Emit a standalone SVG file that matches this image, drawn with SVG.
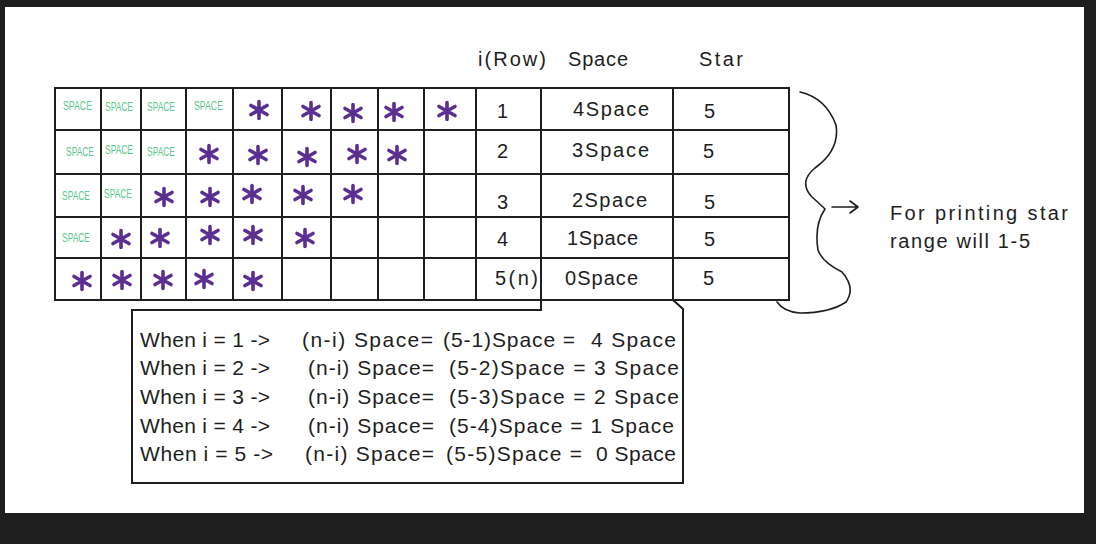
<svg xmlns="http://www.w3.org/2000/svg" width="1096" height="544" viewBox="0 0 1096 544">
<defs>
<style>
.ln{stroke:#1e1e1e;stroke-width:2;fill:none}
.t{font-family:"Liberation Sans",Arial,sans-serif;font-size:20px;fill:#1e1e1e}
.b{font-size:21px}
.sp{font-family:"Liberation Sans",Arial,sans-serif;font-size:10px;fill:#5bc78c}
.hand{stroke:#1e1e1e;stroke-width:1.6;fill:none;stroke-linecap:round;stroke-linejoin:round}
</style>
<g id="star"><path d="M0,-8.5 V8.5 M-8,-4.5 L8,4.5 M-8,4.5 L8,-4.5" stroke="#5b2e91" stroke-width="3.6" stroke-linecap="round" fill="none"/></g>
</defs>
<rect x="0" y="0" width="1096" height="544" fill="#1e1e1e"/>
<rect x="5" y="7" width="1079" height="506" fill="#ffffff"/>

<g id="header">
<text class="t" x="478" y="66" textLength="68">i(Row)</text>
<text class="t" x="568" y="66" textLength="60">Space</text>
<text class="t" x="699" y="66" textLength="44">Star</text>
</g>

<g id="table">
<rect class="ln" x="55" y="88" width="734" height="212"/>
<path class="ln" d="M55,130H789M55,174H789M55,217H789M55,258H789"/>
<path class="ln" d="M101,88V300M141,88V300M186,88V300M233,88V300M282,88V300M331,88V300M378,88V300M424,88V300M476,88V300M541,88V300M673,88V300"/>
</g>

<g id="spaces">
<text class="sp" transform="translate(63,110) scale(1,1.35)" textLength="29" lengthAdjust="spacingAndGlyphs">SPACE</text>
<text class="sp" transform="translate(105,111) scale(1,1.35)" textLength="28" lengthAdjust="spacingAndGlyphs">SPACE</text>
<text class="sp" transform="translate(147,111) scale(1,1.35)" textLength="28" lengthAdjust="spacingAndGlyphs">SPACE</text>
<text class="sp" transform="translate(194,110) scale(1,1.35)" textLength="29" lengthAdjust="spacingAndGlyphs">SPACE</text>
<text class="sp" transform="translate(66,156) scale(1,1.35)" textLength="28" lengthAdjust="spacingAndGlyphs">SPACE</text>
<text class="sp" transform="translate(105,154) scale(1,1.35)" textLength="28" lengthAdjust="spacingAndGlyphs">SPACE</text>
<text class="sp" transform="translate(147,156) scale(1,1.35)" textLength="28" lengthAdjust="spacingAndGlyphs">SPACE</text>
<text class="sp" transform="translate(62,200) scale(1,1.35)" textLength="28" lengthAdjust="spacingAndGlyphs">SPACE</text>
<text class="sp" transform="translate(104,198) scale(1,1.35)" textLength="28" lengthAdjust="spacingAndGlyphs">SPACE</text>
<text class="sp" transform="translate(62,242) scale(1,1.35)" textLength="28" lengthAdjust="spacingAndGlyphs">SPACE</text>
</g>

<g id="stars">
<use href="#star" x="259" y="110"/><use href="#star" x="311" y="111"/><use href="#star" x="353" y="113"/><use href="#star" x="394" y="112"/><use href="#star" x="447" y="111"/>
<use href="#star" x="209" y="154"/><use href="#star" x="258" y="155"/><use href="#star" x="307" y="157"/><use href="#star" x="357" y="154"/><use href="#star" x="397" y="155"/>
<use href="#star" x="164" y="197"/><use href="#star" x="210" y="197"/><use href="#star" x="252" y="194"/><use href="#star" x="303" y="195"/><use href="#star" x="353" y="194"/>
<use href="#star" x="121" y="239"/><use href="#star" x="160" y="238"/><use href="#star" x="210" y="235"/><use href="#star" x="253" y="235"/><use href="#star" x="305" y="238"/>
<use href="#star" x="82" y="281"/><use href="#star" x="122" y="280"/><use href="#star" x="163" y="280"/><use href="#star" x="204" y="279"/><use href="#star" x="253" y="281"/>
</g>

<g id="rows">
<text class="t" x="497" y="118">1</text>
<text class="t" x="497" y="158">2</text>
<text class="t" x="497" y="209">3</text>
<text class="t" x="497" y="246">4</text>
<text class="t" x="495" y="285" textLength="43">5(n)</text>
<text class="t" x="573" y="116" textLength="76">4Space</text>
<text class="t" x="572" y="157" textLength="77">3Space</text>
<text class="t" x="572" y="207" textLength="75">2Space</text>
<text class="t" x="567" y="245" textLength="71">1Space</text>
<text class="t" x="565" y="285" textLength="73">0Space</text>
<text class="t" x="704" y="118">5</text>
<text class="t" x="703" y="158">5</text>
<text class="t" x="704" y="209">5</text>
<text class="t" x="704" y="246">5</text>
<text class="t" x="703" y="285">5</text>
</g>

<g id="brace">
<path class="hand" d="M800,92 Q826,98 836,125 Q840,150 815,168 Q798,182 812,197 Q822,206 825,209 Q814,225 818,250 Q822,262 842,272 Q856,288 846,302 Q830,313 800,313 Q784,312 777,302"/>
</g>

<g id="connectors">
<path class="hand" d="M832,207 H858 M850,201 L858,207 L850,213"/>
</g>

<g id="note">
<text class="t" x="890" y="220" textLength="178">For printing star</text>
<text class="t" x="890" y="248" textLength="140">range will 1-5</text>
</g>

<g id="formula">
<path class="ln" d="M541,300 V310 H132 V483 H683 V309 L673,300"/>
<text class="t b" x="140" y="347" textLength="130">When i = 1 -&gt;</text>
<text class="t b" x="302" y="347" textLength="131">(n-i) Space=</text>
<text class="t b" x="443" y="347" textLength="132">(5-1)Space =</text>
<text class="t b" x="591" y="347" textLength="85">4 Space</text>
<text class="t b" x="140" y="375" textLength="130">When i = 2 -&gt;</text>
<text class="t b" x="308" y="375" textLength="126">(n-i) Space=</text>
<text class="t b" x="449" y="375" textLength="230">(5-2)Space = 3 Space</text>
<text class="t b" x="140" y="404" textLength="130">When i = 3 -&gt;</text>
<text class="t b" x="308" y="404" textLength="126">(n-i) Space=</text>
<text class="t b" x="449" y="404" textLength="230">(5-3)Space = 2 Space</text>
<text class="t b" x="140" y="433" textLength="130">When i = 4 -&gt;</text>
<text class="t b" x="308" y="433" textLength="126">(n-i) Space=</text>
<text class="t b" x="449" y="433" textLength="225">(5-4)Space = 1 Space</text>
<text class="t b" x="140" y="461" textLength="133">When i = 5 -&gt;</text>
<text class="t b" x="305" y="461" textLength="129">(n-i) Space=</text>
<text class="t b" x="446" y="461" textLength="136">(5-5)Space =</text>
<text class="t b" x="596" y="461" textLength="80">0 Space</text>
</g>
</svg>
